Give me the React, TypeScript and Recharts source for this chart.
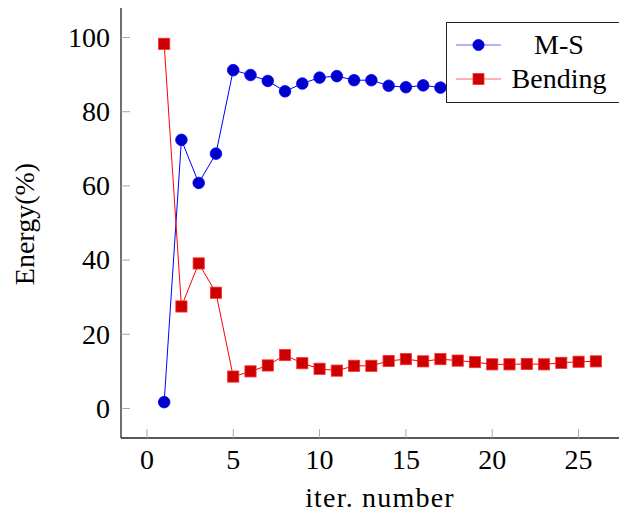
import React from 'react';
import { LineChart, Line, XAxis, YAxis, Legend } from 'recharts';

const iterations = [1, 2, 3, 4, 5, 6, 7, 8, 9, 10, 11, 12, 13, 14, 15, 16, 17, 18, 19, 20, 21, 22, 23, 24, 25, 26];
const msValues = [1.7, 72.4, 60.8, 68.7, 91.2, 89.9, 88.3, 85.5, 87.6, 89.2, 89.6, 88.5, 88.5, 87.0, 86.6, 87.1, 86.5, 87.1, 87.5, 88.1, 88.1, 88.0, 88.1, 87.7, 87.4, 87.3];
const bendingValues = [98.3, 27.5, 39.1, 31.2, 8.6, 10.0, 11.6, 14.4, 12.2, 10.7, 10.2, 11.5, 11.5, 12.8, 13.3, 12.7, 13.3, 12.9, 12.5, 11.9, 11.9, 12.0, 11.9, 12.3, 12.6, 12.7];
const xTicks = [0, 5, 10, 15, 20, 25];
const yTicks = [0, 20, 40, 60, 80, 100];
const seriesNames = ['M-S', 'Bending'];

const data = iterations.map((it, i) => ({ iter: it, ms: msValues[i], bending: bendingValues[i] }));

const FONT = 'Liberation Serif, DejaVu Serif, serif';
const TICK_COLOR = '#a8a8a8';
const FRAME = '#222';

const BottomTick = (props: any) => {
  const { x, y, payload } = props;
  return (
    <g>
      <line x1={x} x2={x} y1={y} y2={y - 9} stroke={TICK_COLOR} strokeWidth={1} />
      <text x={x} y={y + 31} textAnchor="middle" style={{ fontFamily: FONT }} fontSize={28} fill="#000">
        {payload.value}
      </text>
    </g>
  );
};

const TopTick = (props: any) => {
  const { x, y } = props;
  return <line x1={x} x2={x} y1={y} y2={y + 9} stroke={TICK_COLOR} strokeWidth={1} />;
};

const LeftTick = (props: any) => {
  const { x, y, payload } = props;
  return (
    <g>
      <line x1={x} x2={x + 9} y1={y} y2={y} stroke={TICK_COLOR} strokeWidth={1} />
      <text x={x - 11} y={y + 9.3} textAnchor="end" style={{ fontFamily: FONT }} fontSize={28} fill="#000">
        {payload.value}
      </text>
    </g>
  );
};

const XLabel = (props: any) => {
  const vb = props.viewBox || {};
  const cx = vb.x + vb.width / 2;
  return (
    <text x={cx} y={vb.y + 69} textAnchor="middle" style={{ fontFamily: FONT, letterSpacing: 1.2 }} fontSize={28} fill="#000">
      iter. number
    </text>
  );
};

const YLabel = (props: any) => {
  const vb = props.viewBox || {};
  const cy = vb.y + vb.height / 2 + 1;
  const bx = 34;
  return (
    <text
      x={bx}
      y={cy}
      transform={`rotate(-90, ${bx}, ${cy})`}
      textAnchor="middle"
      style={{ fontFamily: FONT }}
      fontSize={28}
      fill="#000"
    >
      Energy(%)
    </text>
  );
};

const CircleDot = (props: any) => {
  const { cx, cy, index } = props;
  if (cx == null || cy == null) return <g key={`c${index}`} />;
  return <circle key={`c${index}`} cx={cx} cy={cy} r={5.8} fill="#0000cc" stroke="#0000ff" strokeWidth={0.8} />;
};

const SquareDot = (props: any) => {
  const { cx, cy, index } = props;
  if (cx == null || cy == null) return <g key={`s${index}`} />;
  return <rect key={`s${index}`} x={cx - 5.6} y={cy - 5.6} width={11.2} height={11.2} fill="#cc0000" stroke="#ff3030" strokeWidth={0.8} />;
};

const LegendBox = (props: any) => {
  const { payload } = props;
  const items = [...(payload || [])].sort(
    (a: any, b: any) => seriesNames.indexOf(a.value) - seriesNames.indexOf(b.value)
  );
  return (
    <div
      style={{
        position: 'relative',
        width: 177,
        height: 81,
        boxSizing: 'border-box',
        border: '1.3px solid #222',
        background: '#fff',
        fontFamily: FONT,
        fontSize: 28,
        color: '#000',
      }}
    >
      {items.map((entry: any, i: number) => {
        const isMS = entry.dataKey === 'ms';
        const color = isMS ? '#0000ff' : '#ff0000';
        const top = 22 + 34.3 * i;
        return (
          <div key={entry.value} style={{ position: 'absolute', left: 0, top: top - 17, width: 177, height: 34 }}>
            <svg width={48} height={34} style={{ position: 'absolute', left: 8, top: 0 }}>
              <line x1={1} x2={46} y1={17} y2={17} stroke={color} strokeWidth={1.2} opacity={0.6} />
              {isMS ? (
                <circle cx={23.5} cy={17} r={5.6} fill="#0000cc" stroke="#0000ff" strokeWidth={0.8} />
              ) : (
                <rect x={18} y={11.5} width={11} height={11} fill="#cc0000" stroke="#ff3030" strokeWidth={0.8} />
              )}
            </svg>
            <div
              style={{
                position: 'absolute',
                left: 58,
                width: 108,
                top: 0,
                height: 34,
                lineHeight: '34px',
                textAlign: 'center',
                whiteSpace: 'nowrap',
              }}
            >
              {entry.value}
            </div>
          </div>
        );
      })}
    </div>
  );
};

export default function App() {
  return (
    <div style={{ margin: -8, width: 627, height: 515, overflow: 'hidden', position: 'relative', background: '#fff' }}>
      <LineChart width={660} height={515} data={data} margin={{ top: 8, right: 21, bottom: 0, left: 0 }}>
        <XAxis
          dataKey="iter"
          type="number"
          domain={[-1.5, 28.5]}
          ticks={xTicks}
          allowDataOverflow
          height={77}
          tickSize={0}
          tickMargin={0}
          tick={<BottomTick />}
          tickLine={false}
          axisLine={{ stroke: FRAME, strokeWidth: 1.3 }}
          label={<XLabel />}
        />
        <XAxis
          xAxisId="top"
          orientation="top"
          dataKey="iter"
          type="number"
          domain={[-1.5, 28.5]}
          ticks={xTicks}
          allowDataOverflow
          height={0}
          tickSize={0}
          tickMargin={0}
          tick={<TopTick />}
          tickLine={false}
          axisLine={{ stroke: FRAME, strokeWidth: 1.3 }}
        />
        <YAxis
          type="number"
          domain={[-7.96, 107.96]}
          ticks={yTicks}
          allowDataOverflow
          width={121}
          tickSize={0}
          tickMargin={0}
          tick={<LeftTick />}
          tickLine={false}
          axisLine={{ stroke: FRAME, strokeWidth: 1.3 }}
          label={<YLabel />}
        />
        <Legend
          layout="vertical"
          align="center"
          verticalAlign="middle"
          content={<LegendBox />}
          wrapperStyle={{ left: 446, top: 22, width: 177, height: 81 }}
        />
        <Line
          name={seriesNames[0]}
          dataKey="ms"
          stroke="#0000ff"
          strokeWidth={1}
          dot={CircleDot}
          activeDot={false}
          isAnimationActive={false}
        />
        <Line
          name={seriesNames[1]}
          dataKey="bending"
          stroke="#ff0000"
          strokeWidth={1}
          dot={SquareDot}
          activeDot={false}
          isAnimationActive={false}
        />
      </LineChart>
    </div>
  );
}
